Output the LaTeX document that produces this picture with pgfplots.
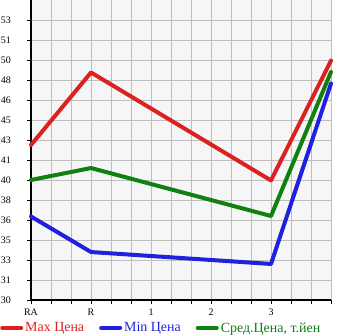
\documentclass[border=0pt]{standalone}
\usepackage{fontspec}
\setmainfont{Liberation Serif}
\usepackage{pgfplots}
\pgfplotsset{compat=1.18}
\definecolor{cred}{HTML}{DD2020}
\definecolor{cblue}{HTML}{2020DD}
\definecolor{cgreen}{HTML}{108010}
\definecolor{cgrid}{HTML}{BEBEBE}
\definecolor{cbg}{HTML}{F6F6F6}
\begin{document}
\begin{tikzpicture}
\useasboundingbox (0,0) rectangle (345bp,335bp);
\begin{axis}[
  at={(31bp,35bp)}, anchor=south west,
  scale only axis, width=300bp, height=300bp,
  xmin=0, xmax=15, ymin=30, ymax=54.642857,
  axis lines=left, axis line style={-, line width=1.8bp, black},
  axis background/.style={fill=cbg},
  xtick={0,3,6,9,12}, xticklabels={{RA},{R},{1},{2},{3}},
  minor xtick={1,2,4,5,7,8,10,11,13,14,15},
  ytick={30,31.642857,33.285714,34.928571,36.571429,38.214286,39.857143,41.5,43.142857,44.785714,46.428571,48.071429,49.714286,51.357143,53},
  yticklabels={30,31,33,35,36,38,40,41,43,45,46,48,50,51,53},
  extra y ticks={54.642857}, extra y tick labels={},
  extra y tick style={grid=none, major tick length=0pt},
  grid=both,
  major grid style={cgrid, line width=0.8bp},
  minor grid style={cgrid, line width=0.8bp},
  tick align=outside,
  major tick length=4bp, minor tick length=4bp,
  tick style={black, line width=0.8bp},
  /pgf/number format/assume math mode=true,
  tick label style={font=\fontsize{10}{12}\selectfont},
  yticklabel style={anchor=east, inner sep=0pt, xshift=-16bp},
  xticklabel style={inner sep=0pt, yshift=-5bp},
  clip=false,
  legend columns=3,
  legend style={at={(-0.1033,-0.0933)}, anchor=west, draw=none, fill=none,
    font=\fontsize{14}{16}\selectfont, inner sep=0pt,
    /tikz/every even column/.append style={column sep=13bp}},
  legend image code/.code={\draw[line width=4bp, line cap=round] (1.5bp,0) -- (20.5bp,0);},
]
\addplot[cred, line width=4bp, line cap=round, line join=round] coordinates {(0,42.73) (3,48.69) (12,39.82) (15,49.67)};
\addlegendentry{\textcolor{cred}{Max Цена}}
\addplot[cblue, line width=4bp, line cap=round, line join=round] coordinates {(0,36.86) (3,33.94) (12,32.96) (15,47.78)};
\addlegendentry{\textcolor{cblue}{Min Цена}}
\addplot[cgreen, line width=4bp, line cap=round, line join=round] coordinates {(0,39.86) (3,40.84) (12,36.90) (15,48.73)};
\addlegendentry{\textcolor{cgreen}{Сред.Цена, т.йен}}
\end{axis}
\end{tikzpicture}
\end{document}
